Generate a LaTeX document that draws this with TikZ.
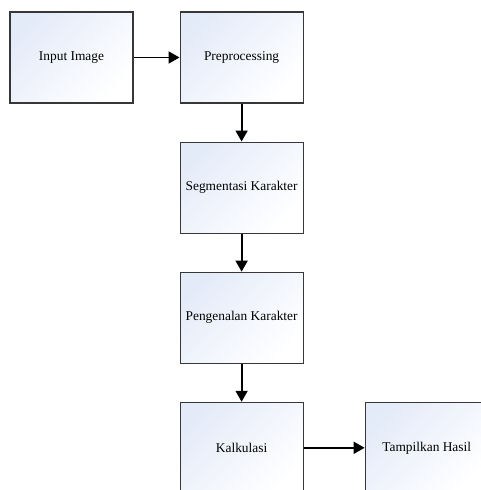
\documentclass[tikz,border=0pt]{standalone}
\usepackage{fontspec}
\setmainfont{Liberation Serif}
\usetikzlibrary{positioning,arrows.meta}
\definecolor{biru}{RGB}{228,235,248}
\definecolor{garis}{RGB}{55,55,55}
\tikzset{
    kotak/.style={draw=garis,line width=1.1pt,rectangle,minimum width=123pt,minimum height=91pt,
        inner sep=0pt,top color=biru,bottom color=white,shading angle=45,
        font=\fontsize{13.4}{16}\selectfont},
    panah/.style={line width=1.8pt,-{Triangle[length=11pt,width=12pt]}}
}

\begin{document}
\begin{tikzpicture}
    \clip (0,0) rectangle (481pt,-490pt);
    \node(inp)[kotak] at (71.5pt,-57.5pt) {Input Image};
    \node(pre)[kotak,right=46pt of inp] {Preprocessing};
    \node(seg)[kotak,below=38pt of pre] {Segmentasi Karakter};
    \node(kar)[kotak,below=38pt of seg] {Pengenalan Karakter};
    \node(kal)[kotak,below=38pt of kar] {Kalkulasi};
    \node(has)[kotak,right=61pt of kal] {Tampilkan Hasil};
    % alur
    \draw[panah] (inp) -- (pre);
    \draw[panah] (pre) -- (seg);
    \draw[panah] (seg) -- (kar);
    \draw[panah] (kar) -- (kal);
    \draw[panah] (kal) -- (has);
\end{tikzpicture}
\end{document}
